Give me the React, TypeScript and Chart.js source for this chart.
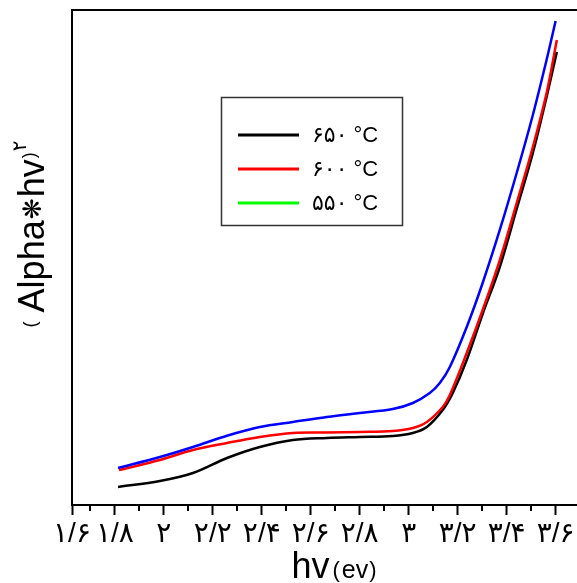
import React, { useEffect, useRef } from "react";
import { Chart, registerables } from "chart.js";

Chart.register(...registerables);

// ---- data (y is in arbitrary units, no y ticks shown) ----
const hv650 = [1.813, 1.984, 2.119, 2.258, 2.392, 2.527, 2.666, 2.8, 2.935, 3.017, 3.074, 3.139, 3.18, 3.237, 3.302, 3.372, 3.441, 3.507, 3.564, 3.605];
const alpha650 = [3.64, 4.85, 6.46, 9.49, 11.72, 13.13, 13.54, 13.74, 13.94, 14.55, 15.76, 19.19, 22.63, 29.29, 38.59, 48.08, 59.8, 71.11, 82.63, 91.52];

const hv600 = [1.817, 1.984, 2.119, 2.258, 2.392, 2.527, 2.666, 2.8, 2.935, 3.017, 3.074, 3.139, 3.168, 3.237, 3.302, 3.372, 3.441, 3.507, 3.564, 3.605];
const alpha600 = [7.07, 9.09, 11.11, 12.53, 13.74, 14.55, 14.65, 14.75, 14.95, 15.56, 16.77, 19.8, 22.22, 30.71, 39.39, 49.49, 61.01, 72.32, 83.43, 93.94];

const hv550 = [1.813, 1.984, 2.119, 2.258, 2.392, 2.527, 2.666, 2.8, 2.935, 3.017, 3.086, 3.127, 3.168, 3.237, 3.302, 3.372, 3.441, 3.507, 3.564, 3.6];
const alpha550 = [7.47, 9.7, 11.72, 14.0, 15.76, 16.77, 17.78, 18.59, 19.39, 20.61, 22.63, 24.65, 27.88, 35.96, 44.85, 55.56, 67.07, 78.79, 90.1, 97.78];

const xTickValues = [1.625, 1.8, 2.0, 2.2, 2.4, 2.6, 2.8, 3.0, 3.2, 3.4, 3.6];
const xTickLabels = ["۱/۶", "۱/۸", "۲", "۲/۲", "۲/۴", "۲/۶", "۲/۸", "۳", "۳/۲", "۳/۴", "۳/۶"];
const xMinorTicks = [1.7, 1.9, 2.1, 2.3, 2.5, 2.7, 2.9, 3.1, 3.3, 3.5, 3.7];

const legendLabels = ["۶۵۰ °C", "۶۰۰ °C", "۵۵۰ °C"];
const legendColors = ["#000000", "#ff0000", "#00ff00"];

const xTitleParts = ["hv", "(", "ev", ")"];
const yTitleParts = ["(", "Alpha", "❋", "hv", ")", "۲"];

const LATIN = "'Liberation Sans', Arial, 'DejaVu Sans', sans-serif";

function pts(xs: number[], ys: number[]) {
  return xs.map((x, i) => ({ x, y: ys[i] }));
}

const decorPlugin = {
  id: "decor",
  afterDraw(chart: any) {
    const ctx = chart.ctx as CanvasRenderingContext2D;
    const area = chart.chartArea;
    const xs = chart.scales.x;
    ctx.save();
    // top border
    ctx.strokeStyle = "#000";
    ctx.lineWidth = 2;
    ctx.beginPath();
    ctx.moveTo(area.left - 1, area.top);
    ctx.lineTo(chart.width, area.top);
    ctx.stroke();
    // minor ticks
    ctx.lineWidth = 2;
    for (const v of xMinorTicks) {
      if (v < xs.min || v > xs.max) continue;
      const px = Math.round(xs.getPixelForValue(v));
      ctx.beginPath();
      ctx.moveTo(px, area.bottom);
      ctx.lineTo(px, area.bottom + 6);
      ctx.stroke();
    }

    // legend box
    const bx = 221, by = 97, bw = 181, bh = 128;
    ctx.fillStyle = "#fff";
    ctx.fillRect(bx, by, bw, bh);
    ctx.strokeStyle = "#333";
    ctx.lineWidth = 1.5;
    ctx.strokeRect(bx + 0.5, by + 0.5, bw, bh);
    ctx.font = `22px ${LATIN}`;
    ctx.textBaseline = "middle";
    ctx.textAlign = "left";
    legendLabels.forEach((lab, i) => {
      const y = 135 + i * 34;
      ctx.strokeStyle = legendColors[i];
      ctx.lineWidth = 3;
      ctx.beginPath();
      ctx.moveTo(238, y);
      ctx.lineTo(299, y);
      ctx.stroke();
      ctx.fillStyle = "#000";
      ctx.fillText(lab, 312, y + 1);
    });

    // x title
    const xFonts = [`36px ${LATIN}`, `22px ${LATIN}`, `25px ${LATIN}`, `22px ${LATIN}`];
    const xGap = [0, 3, 2, 1];
    const xDy = [0, -1, 0, -1];
    let total = 0;
    const widths: number[] = [];
    xTitleParts.forEach((t, i) => {
      ctx.font = xFonts[i];
      const w = ctx.measureText(t).width + xGap[i];
      widths.push(w);
      total += w;
    });
    let cx = 334 - total / 2;
    ctx.fillStyle = "#000";
    ctx.textBaseline = "alphabetic";
    xTitleParts.forEach((t, i) => {
      ctx.font = xFonts[i];
      ctx.fillText(t, cx + xGap[i], 578 + xDy[i]);
      cx += widths[i];
    });

    // y title (rotated)
    const yFonts = [`18px ${LATIN}`, `36px ${LATIN}`, `25px 'DejaVu Sans', sans-serif`, `36px ${LATIN}`, `18px ${LATIN}`, `20px 'DejaVu Sans', sans-serif`];
    const yGapAfter = [9, 1, 1, 1, 1, 0];
    const yDy = [-8, 0, -3, 0, -9, -18];
    ctx.translate(44, 234);
    ctx.rotate(-Math.PI / 2);
    total = 0;
    const yw: number[] = [];
    yTitleParts.forEach((t, i) => {
      ctx.font = yFonts[i];
      const w = ctx.measureText(t).width + yGapAfter[i];
      yw.push(w);
      total += w;
    });
    let ly = -total / 2;
    yTitleParts.forEach((t, i) => {
      ctx.font = yFonts[i];
      ctx.fillText(t, ly, yDy[i]);
      ly += yw[i];
    });
    ctx.restore();
  },
};

export default function App() {
  const ref = useRef<HTMLCanvasElement | null>(null);
  useEffect(() => {
    if (!ref.current) return;
    const common = { borderWidth: 2.5, pointRadius: 0, fill: false, tension: 0.35 };
    const chart = new Chart(ref.current, {
      type: "line",
      data: {
        datasets: [
          { label: legendLabels[2], data: pts(hv550, alpha550), borderColor: "#0000ff", ...common },
          { label: legendLabels[1], data: pts(hv600, alpha600), borderColor: "#ff0000", ...common },
          { label: legendLabels[0], data: pts(hv650, alpha650), borderColor: "#000000", ...common },
        ],
      },
      options: {
        animation: false,
        responsive: false,
        maintainAspectRatio: false,
        devicePixelRatio: 1,
        layout: { padding: { left: 72, top: 10, right: 15, bottom: 0 } },
        plugins: { legend: { display: false }, tooltip: { enabled: false } },
        scales: {
          x: {
            type: "linear",
            min: 1.625,
            max: 3.72,
            afterBuildTicks: (s: any) => {
              s.ticks = xTickValues.map((v) => ({ value: v }));
            },
            afterFit: (s: any) => {
              s.height = 78;
            },
            ticks: {
              autoSkip: false,
              maxRotation: 0,
              minRotation: 0,
              padding: 2,
              color: "#000",
              font: { size: 28, family: LATIN },
              callback: (_v: any, i: number) => xTickLabels[i],
            },
            grid: { display: true, drawOnChartArea: false, drawTicks: true, tickLength: 10, tickWidth: 2, tickColor: "#000" },
            border: { display: true, color: "#000", width: 2 },
          },
          y: {
            type: "linear",
            min: 0,
            max: 100,
            afterFit: (s: any) => {
              s.width = 0;
            },
            ticks: { display: false },
            grid: { display: false, drawTicks: false },
            border: { display: true, color: "#000", width: 2 },
          },
        },
      },
      plugins: [decorPlugin],
    } as any);
    return () => chart.destroy();
  }, []);
  return (
    <div style={{ position: "fixed", left: 0, top: 0, width: 577, height: 583, overflow: "hidden", background: "#fff" }}>
      <canvas ref={ref} width={600} height={583} style={{ display: "block", width: 600, height: 583 }} />
    </div>
  );
}
